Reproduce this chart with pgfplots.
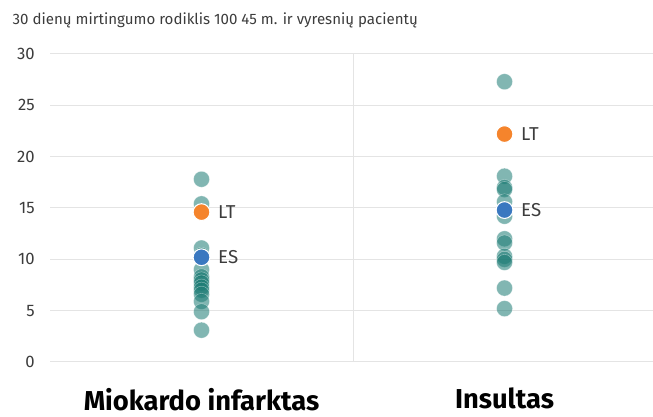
\documentclass[border=0pt]{standalone}
\usepackage{fontspec}
\setmainfont{Fira Sans}
\usepackage{pgfplots}
\pgfplotsset{compat=1.18}
\definecolor{tealpt}{HTML}{1A7A73}
\definecolor{ltorange}{HTML}{F5842C}
\definecolor{esblue}{HTML}{3A78C0}
\definecolor{txt}{HTML}{3C3C3C}
\definecolor{gridc}{HTML}{E4E4E4}

\begin{document}
\begin{tikzpicture}
% 1px = 0.75pt; axis lower left sits at pixel (50,362)
\useasboundingbox (-37.5pt,-41.25pt) rectangle (452.25pt,271.5pt);
\begin{axis}[
  scale only axis,
  width=452.25pt, height=231pt,
  xmin=-0.5, xmax=1.49,
  ymin=0, ymax=30,
  axis line style={draw=none},
  tick style={draw=none},
  ytick={0,5,...,30},
  ymajorgrids,
  grid style={gridc, line width=0.75pt},
  xtick={0,1},
  xticklabels={Miokardo infarktas, Insultas},
  xticklabel style={font=\bfseries\fontsize{20.5}{22}\selectfont, black, yshift=-16pt},
  /pgf/number format/assume math mode=true,
  yticklabel style={font=\fontsize{12.5}{14}\selectfont, txt, anchor=east, xshift=-8pt},
  extra x ticks={0.5},
  extra x tick labels={},
  extra x tick style={xmajorgrids=true, major grid style={gridc, line width=0.75pt}},
  clip=false,
]
% other countries
\addplot[only marks, mark=*, mark size=6pt,
  mark options={fill=tealpt, draw=white, line width=0.3pt, fill opacity=0.55, draw opacity=0.5}]
  coordinates {
  (0,17.8) (0,15.4) (0,11.1) (0,10.4) (0,9.0) (0,8.3) (0,8.0) (0,7.7) (0,7.3)
  (0,7.0) (0,6.6) (0,5.9) (0,4.9) (0,3.1)
  (1,27.3) (1,18.1) (1,17.0) (1,16.8) (1,15.6) (1,14.2) (1,12.0) (1,11.6)
  (1,10.3) (1,10.0) (1,9.7) (1,7.2) (1,5.2)
};
% Lithuania
\addplot[only marks, mark=*, mark size=6.3pt,
  mark options={fill=ltorange, draw=white, line width=0.8pt}]
  coordinates {(0,14.6) (1,22.2)};
% Spain
\addplot[only marks, mark=*, mark size=6.3pt,
  mark options={fill=esblue, draw=white, line width=0.8pt}]
  coordinates {(0,10.2) (1,14.8)};
\node[anchor=west, txt, font=\fontsize{14}{16}\selectfont, xshift=9pt] at (axis cs:0,14.6) {LT};
\node[anchor=west, txt, font=\fontsize{14}{16}\selectfont, xshift=9pt] at (axis cs:0,10.2) {ES};
\node[anchor=west, txt, font=\fontsize{14}{16}\selectfont, xshift=9pt] at (axis cs:1,22.2) {LT};
\node[anchor=west, txt, font=\fontsize{14}{16}\selectfont, xshift=9pt] at (axis cs:1,14.8) {ES};
\end{axis}
\node[anchor=base west, txt, font=\fontsize{11.3}{14}\selectfont] at (-31.5pt,252.75pt)
  {30 dienų mirtingumo rodiklis 100 45 m. ir vyresnių pacientų};
\end{tikzpicture}
\end{document}
